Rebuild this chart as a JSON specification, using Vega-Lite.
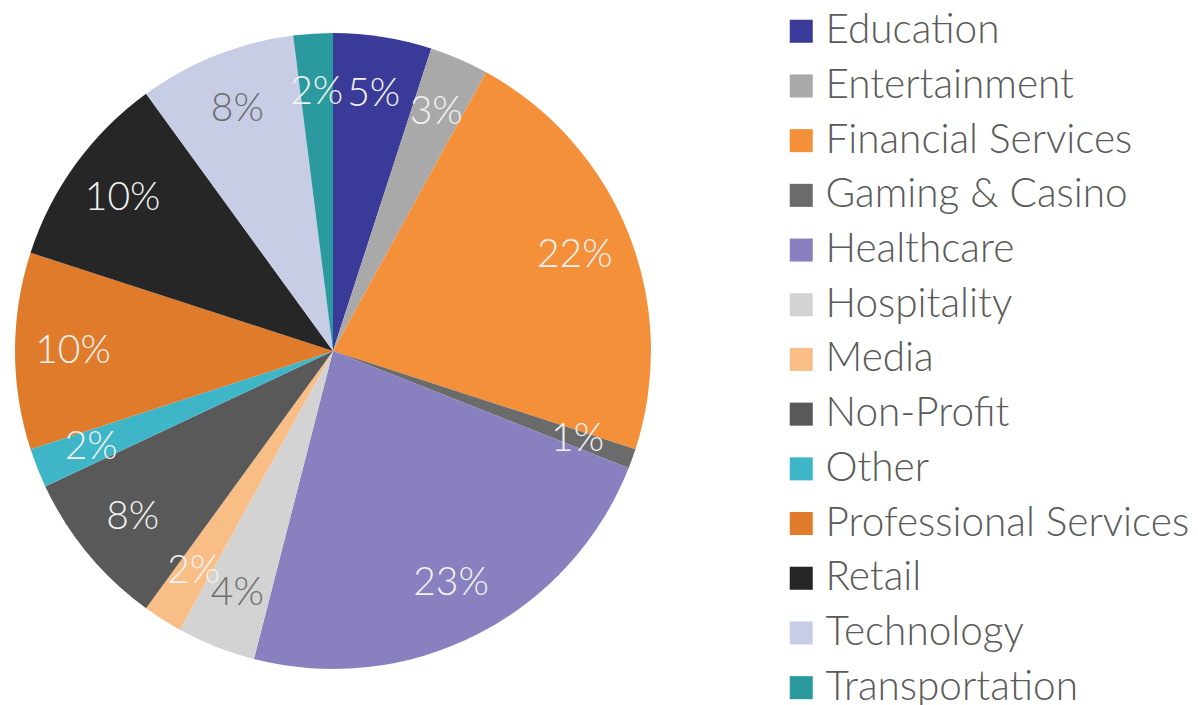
{
  "$schema": "https://vega.github.io/schema/vega-lite/v6.json",
  "width": 666,
  "height": 702,
  "padding": 0,
  "background": "white",
  "config": {"view": {"stroke": null}, "font": "Lato"},
  "data": {"values": [
    {"industry": "Education", "value": 0.05},
    {"industry": "Entertainment", "value": 0.03},
    {"industry": "Financial Services", "value": 0.22},
    {"industry": "Gaming & Casino", "value": 0.01},
    {"industry": "Healthcare", "value": 0.23},
    {"industry": "Hospitality", "value": 0.04},
    {"industry": "Media", "value": 0.02},
    {"industry": "Non-Profit", "value": 0.08},
    {"industry": "Other", "value": 0.02},
    {"industry": "Professional Services", "value": 0.10},
    {"industry": "Retail", "value": 0.10},
    {"industry": "Technology", "value": 0.08},
    {"industry": "Transportation", "value": 0.02}
  ]},
  "layer": [
    {
      "mark": {"type": "arc", "outerRadius": 318},
      "encoding": {
        "theta": {"field": "value", "type": "quantitative", "stack": true},
        "order": {"field": "industry", "type": "nominal", "sort": "ascending"},
        "color": {
          "field": "industry", "type": "nominal",
          "scale": {
            "domain": ["Education", "Entertainment", "Financial Services", "Gaming & Casino", "Healthcare", "Hospitality", "Media", "Non-Profit", "Other", "Professional Services", "Retail", "Technology", "Transportation"],
            "range": ["#3a3a99", "#a9a9a9", "#f5903a", "#6b6b6b", "#8981bf", "#d3d3d3", "#f9be86", "#595959", "#3fb5c8", "#e07b2c", "#262626", "#c8cde6", "#2b9a9e"]
          },
          "legend": {
            "title": null,
            "orient": "none",
            "legendX": 781,
            "legendY": 11,
            "symbolType": "square",
            "symbolSize": 530,
            "symbolStrokeWidth": 0,
            "labelFontSize": 40.5,
            "labelFont": "Lato",
            "labelFontWeight": 300,
            "labelColor": "#5a5a5a",
            "labelOffset": 4,
            "labelLimit": 600,
            "rowPadding": 13.7
          }
        }
      }
    },
    {
      "mark": {"type": "text", "radius": 260, "fontSize": 39, "font": "Lato", "fontWeight": 300},
      "encoding": {
        "theta": {"field": "value", "type": "quantitative", "stack": true},
        "order": {"field": "industry", "type": "nominal", "sort": "ascending"},
        "detail": {"field": "industry", "type": "nominal"},
        "text": {"field": "value", "type": "quantitative", "format": ".0%"},
        "color": {
          "condition": {"test": "datum.industry === 'Technology' || datum.industry === 'Hospitality'", "value": "#6e6e6e"},
          "value": "#f2f2f2"
        }
      }
    }
  ]
}
